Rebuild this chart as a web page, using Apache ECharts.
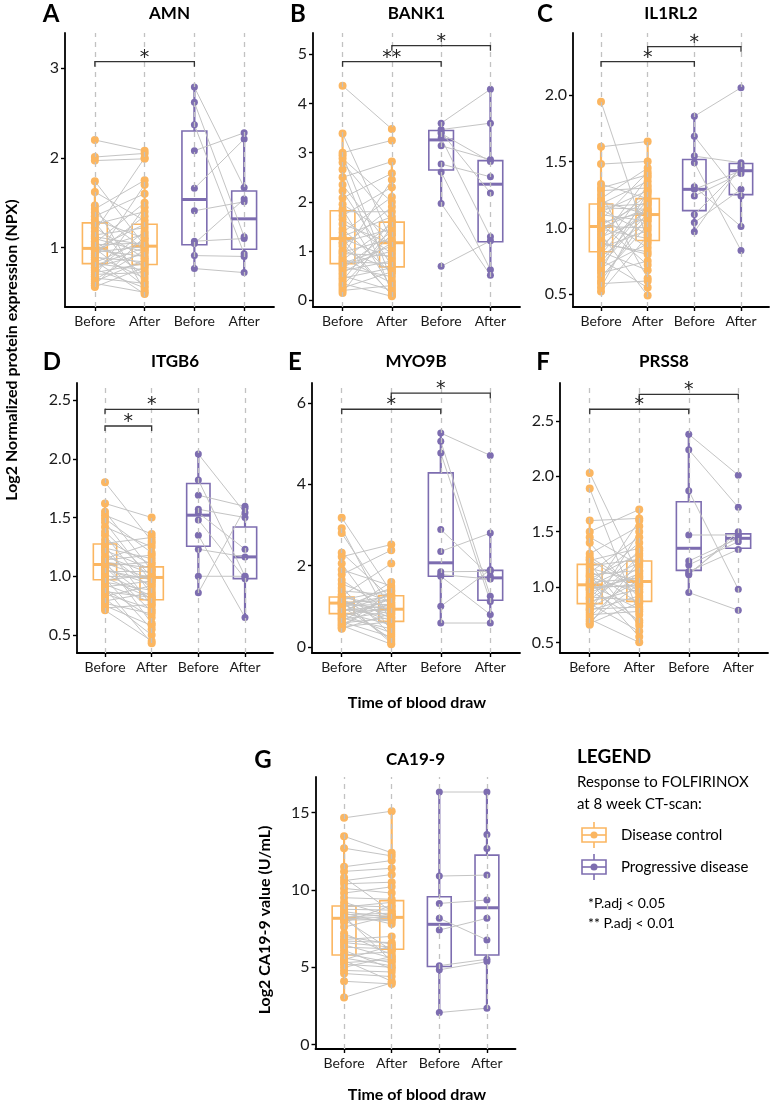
<!DOCTYPE html>
<html lang="en">
<head>
<meta charset="UTF-8">
<title>Protein expression before / after FOLFIRINOX</title>
<script src="https://cdn.jsdelivr.net/npm/echarts@6/dist/echarts.min.js"></script>
<style>html, body { margin: 0; padding: 0; background: #fff; }</style>
</head>
<body>
<div id="chart" style="width: 770px; height: 1104px;"></div>
<script type="text/javascript">
// x categories (positions 0..3)
const timeLabels = ['Before', 'After', 'Before', 'After'];

// ---- AMN ----
const amnDcBefore = [2.20, 2.01, 1.97, 1.74, 1.62, 1.47, 1.43, 1.39, 1.35, 1.31, 1.28, 1.26, 1.22, 1.18, 1.14, 1.10, 1.07, 1.05, 1.03, 1.01, 0.99, 0.99, 0.98, 0.97, 0.95, 0.93, 0.91, 0.89, 0.87, 0.85, 0.83, 0.82, 0.80, 0.78, 0.76, 0.74, 0.72, 0.70, 0.68, 0.66, 0.64, 0.62, 0.60, 0.58, 0.56, 1.12];
const amnDcAfter = [2.08, 2.05, 1.99, 1.02, 1.30, 0.52, 1.75, 0.98, 1.60, 1.10, 0.62, 1.40, 0.88, 2.00, 1.22, 0.95, 0.70, 1.50, 1.05, 0.80, 1.26, 0.57, 1.15, 0.90, 1.01, 1.35, 0.66, 0.84, 1.70, 0.48, 1.08, 0.75, 1.00, 0.93, 0.55, 1.18, 0.82, 0.72, 1.45, 0.60, 0.97, 0.86, 0.50, 1.12, 0.78, 1.03];
const amnPdBefore = [2.79, 2.62, 2.37, 2.08, 1.66, 1.41, 1.07, 1.045, 0.91, 0.765];
const amnPdAfter = [1.67, 1.12, 0.93, 2.28, 2.21, 1.51, 1.10, 1.54, 0.90, 0.72];
// [lower whisker, q1, median, q3, upper whisker] for DC before, DC after, PD before, PD after
const amnBox = [[0.56, 0.82, 0.99, 1.275, 1.74], [0.48, 0.81, 1.015, 1.26, 1.75], [0.765, 1.03, 1.536, 2.30, 2.79], [0.72, 0.98, 1.32, 1.63, 2.28]];
const amnSig = [[0, 2, 3.074, '*']];
const amnTicks = [1, 2, 3];

// ---- BANK1 ----
const bankDcBefore = [4.36, 3.39, 3.00, 2.95, 2.88, 2.80, 2.66, 2.50, 2.35, 2.22, 2.08, 1.95, 1.85, 1.80, 1.72, 1.65, 1.55, 1.45, 1.38, 1.30, 1.26, 1.25, 1.18, 1.10, 1.02, 0.98, 0.95, 0.90, 0.86, 0.82, 0.78, 0.75, 0.72, 0.68, 0.64, 0.60, 0.55, 0.50, 0.45, 0.40, 0.34, 0.30, 0.25, 0.20, 0.15, 1.15];
const bankDcAfter = [3.48, 1.20, 3.25, 0.40, 2.00, 1.60, 0.15, 2.82, 1.05, 0.70, 2.58, 1.32, 0.25, 1.80, 2.30, 0.95, 1.15, 0.55, 2.10, 1.70, 0.85, 0.10, 1.45, 1.90, 0.62, 1.25, 0.90, 2.45, 0.35, 1.55, 0.75, 1.10, 1.00, 0.48, 1.40, 0.80, 1.17, 0.20, 0.66, 1.62, 0.08, 1.35, 0.58, 0.30, 1.50, 0.12];
const bankPdBefore = [3.60, 3.47, 3.42, 3.39, 3.30, 3.14, 2.77, 2.61, 1.97, 0.69];
const bankPdAfter = [4.29, 3.60, 2.18, 2.82, 1.29, 2.86, 2.51, 0.62, 0.51, 1.21];
const bankBox = [[0.15, 0.746, 1.255, 1.82, 3.39], [0.08, 0.68, 1.17, 1.59, 2.82], [1.97, 2.65, 3.26, 3.45, 3.60], [0.51, 1.19, 2.36, 2.84, 4.29]];
const bankSig = [[0, 2, 4.85, '**'], [1, 3, 5.175, '*']];
const bankTicks = [0, 1, 2, 3, 4, 5];

// ---- IL1RL2 ----
const il1DcBefore = [1.95, 1.61, 1.48, 1.33, 1.30, 1.28, 1.25, 1.22, 1.20, 1.18, 1.16, 1.14, 1.12, 1.10, 1.08, 1.06, 1.04, 1.03, 1.02, 1.01, 1.00, 0.99, 0.97, 0.95, 0.93, 0.91, 0.89, 0.87, 0.85, 0.83, 0.82, 0.80, 0.78, 0.76, 0.74, 0.72, 0.70, 0.68, 0.66, 0.63, 0.60, 0.58, 0.55, 0.52, 1.15, 0.88];
const il1DcAfter = [0.90, 1.65, 1.50, 1.22, 1.40, 1.30, 0.62, 1.45, 1.10, 1.35, 1.18, 0.95, 1.28, 1.05, 0.85, 1.42, 1.12, 0.72, 1.20, 1.00, 1.15, 0.92, 1.25, 0.49, 1.08, 1.38, 0.80, 1.13, 0.98, 1.32, 0.68, 1.21, 1.06, 0.55, 1.17, 1.11, 0.88, 1.27, 0.75, 1.02, 1.09, 0.60, 1.19, 0.94, 1.14, 0.82];
const il1PdBefore = [1.84, 1.69, 1.54, 1.49, 1.31, 1.29, 1.24, 1.10, 1.04, 0.97];
const il1PdAfter = [2.055, 1.24, 1.49, 0.83, 1.01, 1.43, 1.41, 1.45, 1.29, 1.465];
const il1Box = [[0.52, 0.82, 1.01, 1.18, 1.61], [0.49, 0.905, 1.10, 1.22, 1.65], [0.97, 1.13, 1.29, 1.515, 1.84], [1.01, 1.25, 1.43, 1.485, 1.49]];
const il1Sig = [[0, 2, 2.251, '*'], [1, 3, 2.364, '*']];
const il1Ticks = [0.5, 1.0, 1.5, 2.0];

// ---- ITGB6 ----
const itgDcBefore = [1.80, 1.62, 1.55, 1.52, 1.49, 1.46, 1.42, 1.38, 1.35, 1.31, 1.28, 1.26, 1.24, 1.20, 1.17, 1.15, 1.13, 1.12, 1.11, 1.10, 1.09, 1.08, 1.06, 1.04, 1.02, 1.00, 0.98, 0.97, 0.95, 0.93, 0.91, 0.89, 0.87, 0.85, 0.83, 0.81, 0.79, 0.77, 0.75, 0.73, 0.71, 1.05, 0.99, 1.14, 0.90, 1.22];
const itgDcAfter = [1.30, 1.50, 1.05, 1.36, 1.20, 0.95, 1.25, 1.00, 0.85, 1.10, 1.33, 0.75, 1.15, 0.90, 1.02, 1.28, 0.60, 1.07, 0.98, 0.80, 1.12, 0.70, 0.93, 1.04, 0.83, 0.99, 0.55, 1.01, 0.88, 0.78, 0.96, 0.65, 0.82, 0.72, 0.92, 0.50, 0.86, 0.68, 0.58, 0.76, 0.45, 0.97, 0.81, 1.18, 0.43, 1.06];
const itgPdBefore = [2.04, 1.82, 1.69, 1.57, 1.54, 1.48, 1.35, 1.23, 1.00, 0.86];
const itgPdAfter = [1.54, 1.00, 1.595, 1.50, 1.23, 0.98, 0.65, 1.165, 1.00, 1.58];
const itgBox = [[0.71, 0.97, 1.10, 1.275, 1.62], [0.43, 0.80, 0.99, 1.08, 1.36], [0.86, 1.255, 1.52, 1.79, 2.04], [0.65, 0.98, 1.165, 1.42, 1.595]];
const itgSig = [[0, 2, 2.421, '*'], [0, 1, 2.279, '*']];
const itgTicks = [0.5, 1.0, 1.5, 2.0, 2.5];

// ---- MYO9B ----
const myoDcBefore = [3.18, 2.92, 2.80, 2.32, 2.22, 2.05, 1.90, 1.78, 1.65, 1.55, 1.45, 1.38, 1.30, 1.25, 1.22, 1.19, 1.16, 1.13, 1.11, 1.09, 1.08, 1.06, 1.04, 1.02, 1.00, 0.97, 0.94, 0.91, 0.88, 0.85, 0.82, 0.80, 0.77, 0.74, 0.71, 0.68, 0.65, 0.62, 0.59, 0.56, 0.53, 0.50, 0.47, 0.45, 1.14, 0.90];
const myoDcAfter = [1.35, 0.60, 0.95, 1.20, 2.52, 0.40, 1.50, 2.38, 0.85, 1.10, 0.30, 1.28, 0.70, 2.05, 1.00, 0.50, 1.40, 0.80, 0.15, 1.15, 0.93, 1.25, 0.65, 1.05, 0.20, 1.45, 0.75, 0.90, 1.30, 0.55, 1.60, 0.35, 0.98, 1.18, 0.45, 0.88, 1.22, 0.25, 0.72, 1.08, 0.07, 0.62, 1.38, 0.82, 0.10, 1.02];
const myoPdBefore = [5.26, 5.06, 4.77, 2.89, 2.35, 1.85, 1.78, 1.74, 1.00, 0.59];
const myoPdAfter = [4.71, 1.25, 1.12, 1.74, 2.80, 1.86, 1.67, 0.80, 1.90, 0.59];
const myoBox = [[0.45, 0.82, 1.08, 1.23, 1.80], [0.07, 0.63, 0.93, 1.26, 1.50], [0.59, 1.74, 2.07, 4.28, 5.26], [0.59, 1.15, 1.70, 1.885, 2.80]];
const myoSig = [[0, 2, 5.845, '*'], [1, 3, 6.24, '*']];
const myoTicks = [0, 2, 4, 6];

// ---- PRSS8 ----
const prsDcBefore = [2.03, 1.89, 1.60, 1.50, 1.45, 1.40, 1.30, 1.27, 1.24, 1.21, 1.19, 1.17, 1.15, 1.13, 1.11, 1.09, 1.07, 1.05, 1.04, 1.03, 1.02, 1.01, 0.99, 0.97, 0.95, 0.93, 0.91, 0.89, 0.87, 0.85, 0.83, 0.81, 0.79, 0.77, 0.75, 0.73, 0.71, 0.69, 0.67, 0.66, 1.10, 0.98, 1.25, 0.90, 0.80, 1.00];
const prsDcAfter = [1.10, 0.75, 1.62, 1.70, 1.20, 0.90, 1.55, 1.00, 1.35, 0.65, 1.25, 1.05, 0.85, 1.45, 1.15, 0.95, 1.30, 0.55, 1.08, 1.40, 0.80, 1.22, 1.02, 0.70, 1.12, 1.60, 0.88, 1.18, 0.98, 0.60, 1.28, 1.06, 0.92, 1.50, 0.78, 1.14, 0.50, 1.03, 0.86, 1.24, 0.68, 1.09, 0.96, 1.33, 0.82, 1.01];
const prsPdBefore = [2.38, 2.24, 1.87, 1.47, 1.235, 1.20, 1.14, 1.12, 1.11, 0.95];
const prsPdAfter = [2.01, 1.72, 0.98, 1.47, 1.44, 1.41, 1.34, 1.47, 1.50, 0.79];
const prsBox = [[0.66, 0.85, 1.02, 1.205, 1.60], [0.50, 0.87, 1.05, 1.235, 1.70], [0.95, 1.15, 1.35, 1.77, 2.38], [1.34, 1.35, 1.44, 1.48, 1.50]];
const prsSig = [[0, 2, 2.606, '*'], [1, 3, 2.741, '*']];
const prsTicks = [0.5, 1.0, 1.5, 2.0, 2.5];

// ---- CA19-9 ----
const caDcBefore = [14.66, 13.47, 12.70, 11.50, 11.20, 10.80, 10.60, 10.40, 10.10, 9.80, 9.20, 9.00, 8.90, 8.75, 8.60, 8.50, 8.40, 8.30, 8.25, 8.20, 8.17, 8.10, 7.90, 7.60, 7.20, 7.00, 6.80, 6.60, 6.45, 6.30, 6.10, 5.90, 5.80, 5.60, 5.45, 5.30, 5.20, 5.00, 4.80, 4.60, 4.10, 3.05, 8.05, 6.70, 9.50, 5.50];
const caDcAfter = [15.09, 12.40, 12.20, 11.90, 11.40, 8.60, 11.00, 10.50, 9.80, 10.20, 8.30, 8.90, 9.20, 8.70, 8.20, 7.80, 8.50, 5.40, 8.40, 8.00, 8.23, 6.10, 9.00, 8.35, 5.80, 6.50, 7.00, 6.30, 5.60, 6.20, 4.90, 5.30, 6.00, 5.10, 4.10, 5.50, 5.00, 5.70, 4.70, 4.40, 3.93, 4.00, 8.10, 6.60, 9.40, 6.40];
const caPdBefore = [16.33, 10.90, 9.13, 8.17, 7.41, 5.11, 4.84, 2.08, null, null];
const caPdAfter = [16.33, 10.96, 9.35, 6.77, 8.17, 5.52, 5.37, 2.36, 13.58, 12.68];
const caBox = [[3.05, 5.80, 8.17, 8.96, 13.47], [3.93, 6.17, 8.23, 9.31, 15.09], [2.08, 5.05, 7.78, 9.56, 16.33], [2.36, 5.80, 8.85, 12.25, 16.33]];
const caSig = [];
const caTicks = [0, 5, 10, 15];

const panels = [
    { name: 'AMN', letter: 'A', dcB: amnDcBefore, dcA: amnDcAfter, pdB: amnPdBefore, pdA: amnPdAfter, box: amnBox, sig: amnSig, ticks: amnTicks, dec: 0 },
    { name: 'BANK1', letter: 'B', dcB: bankDcBefore, dcA: bankDcAfter, pdB: bankPdBefore, pdA: bankPdAfter, box: bankBox, sig: bankSig, ticks: bankTicks, dec: 0 },
    { name: 'IL1RL2', letter: 'C', dcB: il1DcBefore, dcA: il1DcAfter, pdB: il1PdBefore, pdA: il1PdAfter, box: il1Box, sig: il1Sig, ticks: il1Ticks, dec: 1 },
    { name: 'ITGB6', letter: 'D', dcB: itgDcBefore, dcA: itgDcAfter, pdB: itgPdBefore, pdA: itgPdAfter, box: itgBox, sig: itgSig, ticks: itgTicks, dec: 1 },
    { name: 'MYO9B', letter: 'E', dcB: myoDcBefore, dcA: myoDcAfter, pdB: myoPdBefore, pdA: myoPdAfter, box: myoBox, sig: myoSig, ticks: myoTicks, dec: 0 },
    { name: 'PRSS8', letter: 'F', dcB: prsDcBefore, dcA: prsDcAfter, pdB: prsPdBefore, pdA: prsPdAfter, box: prsBox, sig: prsSig, ticks: prsTicks, dec: 1 },
    { name: 'CA19-9', letter: 'G', dcB: caDcBefore, dcA: caDcAfter, pdB: caPdBefore, pdA: caPdAfter, box: caBox, sig: caSig, ticks: caTicks, dec: 0 }
];

// Layout of each plot panel (pixels) and y range
const layout = [
    { left: 65, top: 33, width: 209, height: 274, min: 0.336, max: 3.394, lx: 51, ly: 14 },
    { left: 313, top: 33, width: 207, height: 274, min: -0.136, max: 5.433, lx: 298, ly: 14 },
    { left: 573, top: 33, width: 196, height: 274, min: 0.404, max: 2.467, lx: 545, ly: 14 },
    { left: 77, top: 383, width: 196, height: 270, min: 0.347, max: 2.645, lx: 52, ly: 362 },
    { left: 312, top: 383, width: 208, height: 270, min: -0.147, max: 6.49, lx: 295, ly: 362 },
    { left: 560, top: 383, width: 208, height: 270, min: 0.404, max: 2.843, lx: 543, ly: 362 },
    { left: 315.5, top: 777, width: 200, height: 272, min: -0.277, max: 17.30, lx: 263, ly: 760 }
];

const ORANGE = '#FBB661';
const PURPLE = '#7D6DB0';
const FONT = 'Lato';

function renderBox(params, api) {
    const x = api.value(0);
    const lo = api.coord([x, api.value(1)]);
    const q1 = api.coord([x, api.value(2)]);
    const md = api.coord([x, api.value(3)]);
    const q3 = api.coord([x, api.value(4)]);
    const hi = api.coord([x, api.value(5)]);
    const half = api.size([0.5, 0])[0] / 2;
    const color = x < 2 ? ORANGE : PURPLE;
    return {
        type: 'group',
        children: [
            { type: 'line', shape: { x1: lo[0], y1: lo[1], x2: q1[0], y2: q1[1] }, style: { stroke: color, lineWidth: 2.2 } },
            { type: 'line', shape: { x1: q3[0], y1: q3[1], x2: hi[0], y2: hi[1] }, style: { stroke: color, lineWidth: 2.2 } },
            { type: 'rect', shape: { x: q1[0] - half, y: q3[1], width: half * 2, height: q1[1] - q3[1] }, style: { fill: 'none', stroke: color, lineWidth: 1.6 } },
            { type: 'line', shape: { x1: md[0] - half, y1: md[1], x2: md[0] + half, y2: md[1] }, style: { stroke: color, lineWidth: 3 } }
        ]
    };
}

function renderPair(params, api) {
    const a = api.coord([api.value(0), api.value(1)]);
    const b = api.coord([api.value(2), api.value(3)]);
    return { type: 'line', shape: { x1: a[0], y1: a[1], x2: b[0], y2: b[1] }, style: { stroke: '#C4C4C4', lineWidth: 1 } };
}

function makeBracketRenderer(sig) {
    return function (params, api) {
        const a = api.coord([api.value(0), api.value(2)]);
        const b = api.coord([api.value(1), api.value(2)]);
        return {
            type: 'group',
            children: [
                { type: 'polyline', shape: { points: [[a[0], a[1] + 5], a, b, [b[0], b[1] + 5]] }, style: { stroke: '#333', lineWidth: 1.3, fill: 'none' } },
                { type: 'text', x: (a[0] + b[0]) / 2, y: a[1] - 4, style: { text: sig[params.dataIndex][3], font: '19px "DejaVu Sans"', fill: '#222', textAlign: 'center', textVerticalAlign: 'middle', align: 'center', verticalAlign: 'middle' } }
            ]
        };
    };
}

const grids = [], xAxes = [], yAxes = [], series = [];
panels.forEach((p, i) => {
    const L = layout[i];
    grids.push({ left: L.left, top: L.top, width: L.width, height: L.height });
    xAxes.push({
        type: 'value', gridIndex: i, min: -0.6, max: 3.6,
        axisLine: { show: true, onZero: false, lineStyle: { color: '#000', width: 1.8 } },
        axisTick: { show: true, customValues: [0, 1, 2, 3], length: 4, lineStyle: { color: '#000', width: 1.4 } },
        axisLabel: { customValues: [0, 1, 2, 3], formatter: v => timeLabels[Math.round(v)], fontFamily: FONT, fontSize: 14, color: '#1a1a1a', margin: 7 },
        splitLine: { show: false }
    });
    yAxes.push({
        type: 'value', gridIndex: i, min: L.min, max: L.max,
        axisLine: { show: true, onZero: false, lineStyle: { color: '#000', width: 1.8 } },
        axisTick: { show: true, customValues: p.ticks, length: 4, lineStyle: { color: '#000', width: 1.4 } },
        axisLabel: { customValues: p.ticks, formatter: v => v.toFixed(p.dec), fontFamily: FONT, fontSize: 16, color: '#1a1a1a', margin: 6 },
        splitLine: { show: false }
    });

    // dashed guide lines
    series.push({
        type: 'scatter', xAxisIndex: i, yAxisIndex: i, data: [], z: 1, silent: true,
        markLine: {
            silent: true, symbol: 'none', label: { show: false }, animation: false,
            lineStyle: { color: '#C2C2C2', width: 1.3, type: [5, 5] },
            data: [0, 1, 2, 3].map(v => ({ xAxis: v }))
        }
    });

    // boxes
    series.push({
        type: 'custom', xAxisIndex: i, yAxisIndex: i, z: 2, silent: true,
        renderItem: renderBox, encode: { x: 0, y: [1, 2, 3, 4, 5] },
        data: p.box.map((s, k) => [k].concat(s))
    });

    // paired lines
    const pairs = [];
    p.dcB.forEach((v, k) => { if (v != null && p.dcA[k] != null) pairs.push([0, v, 1, p.dcA[k]]); });
    p.pdB.forEach((v, k) => { if (v != null && p.pdA[k] != null) pairs.push([2, v, 3, p.pdA[k]]); });
    series.push({
        type: 'custom', xAxisIndex: i, yAxisIndex: i, z: 3, silent: true,
        renderItem: renderPair, encode: { x: [0, 2], y: [1, 3] }, data: pairs
    });

    // points
    const dcPts = p.dcB.filter(v => v != null).map(v => [0, v]).concat(p.dcA.filter(v => v != null).map(v => [1, v]));
    const pdPts = p.pdB.filter(v => v != null).map(v => [2, v]).concat(p.pdA.filter(v => v != null).map(v => [3, v]));
    series.push({ type: 'scatter', xAxisIndex: i, yAxisIndex: i, z: 4, silent: true, symbolSize: 8, itemStyle: { color: ORANGE, opacity: 1 }, data: dcPts });
    series.push({ type: 'scatter', xAxisIndex: i, yAxisIndex: i, z: 4, silent: true, symbolSize: 7, itemStyle: { color: PURPLE, opacity: 1 }, data: pdPts });

    // significance brackets
    if (p.sig.length) {
        series.push({
            type: 'custom', xAxisIndex: i, yAxisIndex: i, z: 5, silent: true,
            renderItem: makeBracketRenderer(p.sig), encode: { x: [0, 1], y: 2 },
            data: p.sig.map(s => [s[0], s[1], s[2]])
        });
    }
});

// Text and legend
const graphics = [];
function txt(x, y, text, font, align, rot) {
    graphics.push({
        type: 'text', x: x, y: y, rotation: rot || 0, silent: true,
        style: { text: text, font: font, fill: '#000', textAlign: align || 'center', textVerticalAlign: 'middle', align: align || 'center', verticalAlign: 'middle' }
    });
}
panels.forEach((p, i) => {
    const L = layout[i];
    txt(L.lx, L.ly, p.letter, 'bold 24px ' + FONT);
    txt(L.left + L.width / 2, L.ly, p.name, 'bold 17px ' + FONT);
});
txt(12, 350, 'Log2 Normalized protein expression (NPX)', 'bold 16px ' + FONT, 'center', Math.PI / 2);
txt(265, 920, 'Log2 CA19-9 value (U/mL)', 'bold 16px ' + FONT, 'center', Math.PI / 2);
txt(417, 703, 'Time of blood draw', 'bold 16px ' + FONT);
txt(417, 1095, 'Time of blood draw', 'bold 16px ' + FONT);

txt(577, 757, 'LEGEND', 'bold 19px ' + FONT, 'left');
txt(577, 782, 'Response to FOLFIRINOX', '15px ' + FONT, 'left');
txt(577, 804, 'at 8 week CT-scan:', '15px ' + FONT, 'left');
txt(621, 835, 'Disease control', '15px ' + FONT, 'left');
txt(621, 867, 'Progressive disease', '15px ' + FONT, 'left');
txt(588, 903, '*P.adj < 0.05', '14px ' + FONT, 'left');
txt(588, 923, '** P.adj < 0.01', '14px ' + FONT, 'left');

function legendIcon(cx, cy, color) {
    graphics.push({
        type: 'group', silent: true,
        children: [
            { type: 'line', shape: { x1: cx, y1: cy - 13, x2: cx, y2: cy - 7 }, style: { stroke: color, lineWidth: 1.6 } },
            { type: 'line', shape: { x1: cx, y1: cy + 7, x2: cx, y2: cy + 13 }, style: { stroke: color, lineWidth: 1.6 } },
            { type: 'rect', shape: { x: cx - 12, y: cy - 7, width: 24, height: 14 }, style: { fill: 'none', stroke: color, lineWidth: 1.6 } },
            { type: 'line', shape: { x1: cx - 12, y1: cy, x2: cx + 12, y2: cy }, style: { stroke: color, lineWidth: 1.6 } },
            { type: 'circle', shape: { cx: cx, cy: cy, r: 3.5 }, style: { fill: color } }
        ]
    });
}
legendIcon(594, 835, ORANGE);
legendIcon(594, 867, PURPLE);

const chart = echarts.init(document.getElementById('chart'));
chart.setOption({
    animation: false,
    backgroundColor: '#fff',
    grid: grids,
    xAxis: xAxes,
    yAxis: yAxes,
    series: series,
    graphic: graphics
});
</script>
</body>
</html>
